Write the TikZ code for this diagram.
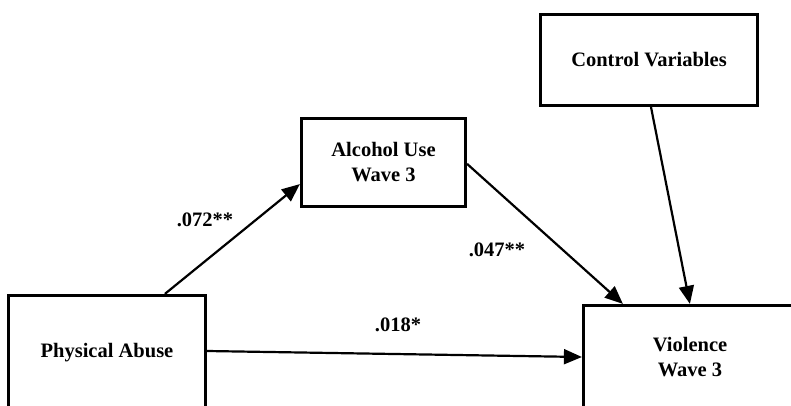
\documentclass[tikz,border=0pt]{standalone}
\usepackage{fontspec}
\setmainfont{Liberation Serif}
\usetikzlibrary{arrows.meta,calc}
\begin{document}
\begin{tikzpicture}[x=1pt,y=-1pt,
  box/.style={draw=black,line width=3.2pt,fill=white,inner sep=0pt,align=center,
    font=\bfseries\fontsize{20.5}{25}\selectfont},
  lab/.style={font=\bfseries\fontsize{20.5}{25}\selectfont,inner sep=0pt},
  arr/.style={line width=2.2pt,-{Triangle[length=18pt,width=15pt]}}]
\useasboundingbox (0,0) rectangle (791,406);
\clip (0,0) rectangle (791,406);
\fill[white] (0,0) rectangle (791,406);
\node[box,minimum width=217pt,minimum height=91pt] (cv) at (649,60) {Control Variables};
\node[box,minimum width=164pt,minimum height=88pt] (al) at (383.5,162.5) {Alcohol Use\\Wave 3};
\node[box,minimum width=197pt,minimum height=115pt] (pa) at (107,353) {Physical Abuse};
\node[box,minimum width=213pt,minimum height=103pt] (vi) at (690,357) {Violence\\Wave 3};
\draw[arr] ([xshift=158pt]pa.north west) -- ([yshift=24pt]al.south west);
\draw[arr] ([yshift=-47pt]al.north east) -- ([xshift=41pt]vi.north west);
\draw[arr] ([xshift=2pt]cv.south) -- ([xshift=108pt]vi.north west);
\draw[arr] ([yshift=2pt]pa.east) -- ([yshift=0pt]vi.west);
\node[lab] (l1) at (205,220) {.072**};
\node[lab] (l2) at (497,250) {.047**};
\node[lab] (l3) at (398,325) {.018*};
\end{tikzpicture}
\end{document}
